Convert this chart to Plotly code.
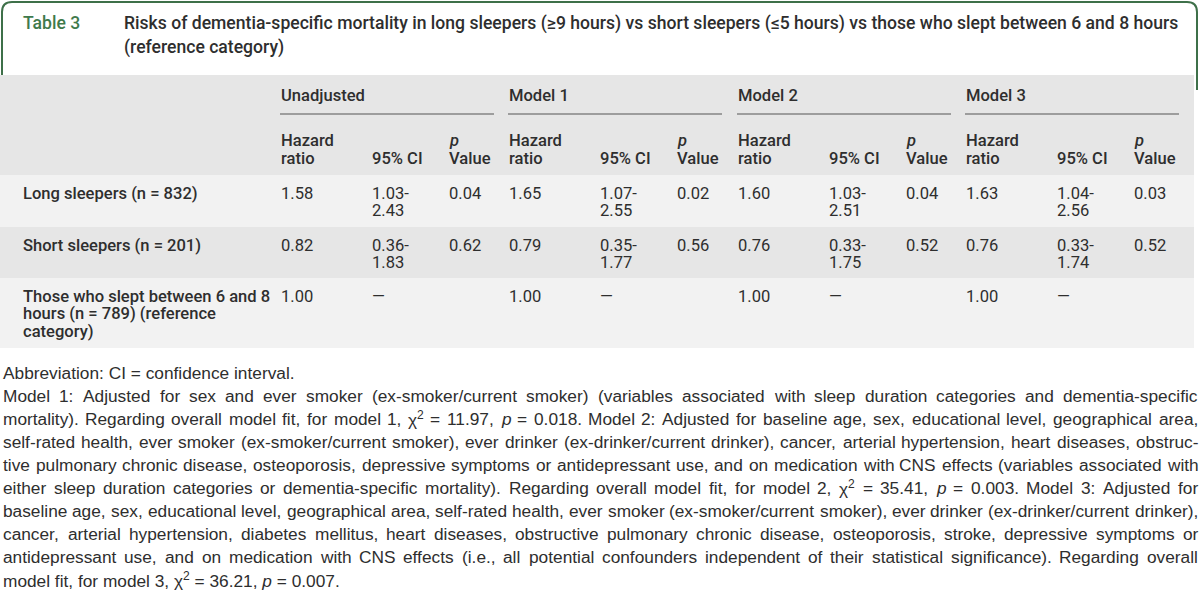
import re
import glob
import struct
import plotly.graph_objects as go

# ---------------------------------------------------------------- data
table_number = "Table 3"
title_lines = [
    "Risks of dementia-specific mortality in long sleepers (≥9 hours) vs short sleepers (≤5 hours) vs those who slept between 6 and 8 hours",
    "(reference category)",
]
model_names = ["Unadjusted", "Model 1", "Model 2", "Model 3"]
sub_headers = ["Hazard<br>ratio", "95% CI", "<i>p</i><br>Value"]
row_labels = [
    "Long sleepers (n = 832)",
    "Short sleepers (n = 201)",
    "Those who slept between 6 and 8<br>hours (n = 789) (reference<br>category)",
]

hr_unadjusted = [1.58, 0.82, 1.00]
ci_low_unadjusted = [1.03, 0.36, None]
ci_high_unadjusted = [2.43, 1.83, None]
p_unadjusted = [0.04, 0.62, None]

hr_model1 = [1.65, 0.79, 1.00]
ci_low_model1 = [1.07, 0.35, None]
ci_high_model1 = [2.55, 1.77, None]
p_model1 = [0.02, 0.56, None]

hr_model2 = [1.60, 0.76, 1.00]
ci_low_model2 = [1.03, 0.33, None]
ci_high_model2 = [2.51, 1.75, None]
p_model2 = [0.04, 0.52, None]

hr_model3 = [1.63, 0.76, 1.00]
ci_low_model3 = [1.04, 0.33, None]
ci_high_model3 = [2.56, 1.74, None]
p_model3 = [0.03, 0.52, None]

CHI = "χ<sup>2</sup>"
footnote_paragraphs = [
    ["Abbreviation: CI = confidence interval."],
    [
        "Model 1: Adjusted for sex and ever smoker (ex-smoker/current smoker) (variables associated with sleep duration categories and dementia-specific",
        "mortality). Regarding overall model fit, for model 1, " + CHI + " = 11.97, <i>p</i> = 0.018. Model 2: Adjusted for baseline age, sex, educational level, geographical area,",
        "self-rated health, ever smoker (ex-smoker/current smoker), ever drinker (ex-drinker/current drinker), cancer, arterial hypertension, heart diseases, obstruc-",
        "tive pulmonary chronic disease, osteoporosis, depressive symptoms or antidepressant use, and on medication with CNS effects (variables associated with",
        "either sleep duration categories or dementia-specific mortality). Regarding overall model fit, for model 2, " + CHI + " = 35.41, <i>p</i> = 0.003. Model 3: Adjusted for",
        "baseline age, sex, educational level, geographical area, self-rated health, ever smoker (ex-smoker/current smoker), ever drinker (ex-drinker/current drinker),",
        "cancer, arterial hypertension, diabetes mellitus, heart diseases, obstructive pulmonary chronic disease, osteoporosis, stroke, depressive symptoms or",
        "antidepressant use, and on medication with CNS effects (i.e., all potential confounders independent of their statistical significance). Regarding overall",
        "model fit, for model 3, " + CHI + " = 36.21, <i>p</i> = 0.007.",
    ],
]

hr_cols = [hr_unadjusted, hr_model1, hr_model2, hr_model3]
ci_low_cols = [ci_low_unadjusted, ci_low_model1, ci_low_model2, ci_low_model3]
ci_high_cols = [ci_high_unadjusted, ci_high_model1, ci_high_model2, ci_high_model3]
p_cols = [p_unadjusted, p_model1, p_model2, p_model3]

# ---------------------------------------------------------------- styles / layout
W, H = 1200, 592
GREEN = "#3e7049"
GREEN_TXT = "#3f7a4c"
TXT = "#2e2e2e"
HEAD_BG = "#e6e6e6"
LIGHT_BG = "#f2f2f2"
RULE = "#555555"
TABLE_FONT = "Roboto"
NOTE_FONT = "Liberation Sans"

label_x = 22
group_x = [280, 508, 737, 965]
sub_dx = [0, 91, 168]
group_rule_w = 214
table_left, table_right = 0, 1194
header_top, header_bottom = 75, 175
row_bounds = [175, 227, 278, 348]
row_fills = [LIGHT_BG, HEAD_BG, LIGHT_BG]
group_y, group_rule_y = 95, 114
sub_last_line_y = 158
cell_line_h = 17.5
first_line_off = 18
note_left, note_right = 2, 1197
note_first_y, note_line_h = 373, 23


# ---------------------------------------------------------------- font metrics (for sizing / justification)
def find_font(names):
    for n in names:
        for base in ["/usr/share/fonts", "/usr/local/share/fonts", "/root/.fonts", "/usr/share"]:
            hits = glob.glob(base + "/**/" + n, recursive=True)
            if hits:
                return hits[0]
    return None


def load_metrics(path):
    if not path:
        return None
    try:
        data = open(path, "rb").read()
        num = struct.unpack(">H", data[4:6])[0]
        tables = {}
        for i in range(num):
            tag, _, off, ln = struct.unpack(">4sIII", data[12 + 16 * i: 28 + 16 * i])
            tables[tag.decode("latin1")] = off
        head = tables["head"]
        upem = struct.unpack(">H", data[head + 18: head + 20])[0]
        hhea = tables["hhea"]
        nhm = struct.unpack(">H", data[hhea + 34: hhea + 36])[0]
        hm = tables["hmtx"]
        adv = [struct.unpack(">H", data[hm + 4 * i: hm + 4 * i + 2])[0] for i in range(nhm)]
        cm = tables["cmap"]
        nsub = struct.unpack(">H", data[cm + 2: cm + 4])[0]
        sub = None
        for i in range(nsub):
            pid, eid, off = struct.unpack(">HHI", data[cm + 4 + 8 * i: cm + 12 + 8 * i])
            s = cm + off
            fmt = struct.unpack(">H", data[s: s + 2])[0]
            if fmt == 4 and pid in (0, 3):
                sub = s
                break
        if sub is None:
            return None
        segx2 = struct.unpack(">H", data[sub + 6: sub + 8])[0]
        seg = segx2 // 2
        ends = struct.unpack(">%dH" % seg, data[sub + 14: sub + 14 + segx2])
        starts = struct.unpack(">%dH" % seg, data[sub + 16 + segx2: sub + 16 + 2 * segx2])
        deltas = struct.unpack(">%dh" % seg, data[sub + 16 + 2 * segx2: sub + 16 + 3 * segx2])
        rpos = sub + 16 + 3 * segx2
        roffs = struct.unpack(">%dH" % seg, data[rpos: rpos + segx2])
        cache = {}

        def gid(c):
            if c in cache:
                return cache[c]
            g = 0
            for k in range(seg):
                if starts[k] <= c <= ends[k]:
                    if roffs[k] == 0:
                        g = (c + deltas[k]) & 0xFFFF
                    else:
                        a = rpos + 2 * k + roffs[k] + 2 * (c - starts[k])
                        g0 = struct.unpack(">H", data[a: a + 2])[0]
                        g = (g0 + deltas[k]) & 0xFFFF if g0 else 0
                    break
            cache[c] = g
            return g

        def width(s, size):
            return sum(adv[min(gid(ord(ch)), nhm - 1)] for ch in s) * size / upem

        return width
    except Exception:
        return None


def plain_width(metric, text, size):
    total = 0.0
    for part in re.split(r"(<sup>.*?</sup>)", text):
        if not part:
            continue
        sz = size * 0.7 if part.startswith("<sup>") else size
        clean = re.sub(r"<[^>]+>", "", part)
        total += metric(clean, sz) if metric else 0.5 * sz * len(clean)
    return total


def fit_size(metric, text, target, default, lo, hi):
    if not metric:
        return default
    w1 = plain_width(metric, text, 1.0)
    if w1 <= 0:
        return default
    return max(lo, min(hi, target / w1))


medium_metric = load_metrics(find_font(["Roboto-Medium.ttf"]))
if medium_metric:
    HEAVY = 500
    heavy_metric = medium_metric
else:
    HEAVY = 700
    heavy_metric = load_metrics(find_font(["Roboto-Bold.ttf"]))
note_metric = load_metrics(find_font(["LiberationSans-Regular.ttf"]))

title_size = fit_size(heavy_metric, title_lines[0], 1056, 16.5, 14.5, 18.5)
table_size = fit_size(heavy_metric, row_labels[0], 175, 15.5, 14, 17)

# footnote size: the densest justified line of the source is set at its natural width
justified_lines = [ln for para in footnote_paragraphs for ln in para[:-1]]
if note_metric:
    widest = max(plain_width(note_metric, ln, 1.0) for ln in justified_lines)
    note_size = max(14.5, min(17.5, (note_right - note_left - 3) / widest))
else:
    note_size = 16.0

# ---------------------------------------------------------------- build
annotations, shapes = [], []


def add_text(x, y, text, size, family, color=TXT, weight=400):
    annotations.append(dict(
        x=x, y=y, xref="x", yref="y", text=text, showarrow=False,
        xanchor="left", yanchor="middle", align="left", borderpad=0,
        font=dict(family=family, size=size, color=color, weight=weight),
    ))


# title frame (rounded top corners, open bottom hidden below the table)
r = 10
shapes.append(dict(
    type="path", xref="x", yref="y", layer="below",
    path=f"M 2,90 L 2,{2 + r} Q 2,2 {2 + r},2 L {1197 - r},2 Q 1197,2 1197,{2 + r} L 1197,90",
    line=dict(color=GREEN, width=2),
))
# header background and row bands
shapes.append(dict(type="rect", xref="x", yref="y", layer="below", x0=table_left, x1=table_right,
                   y0=header_top, y1=header_bottom, fillcolor=HEAD_BG, line=dict(width=0)))
for i, fill in enumerate(row_fills):
    shapes.append(dict(type="rect", xref="x", yref="y", layer="below", x0=table_left, x1=table_right,
                       y0=row_bounds[i], y1=row_bounds[i + 1], fillcolor=fill, line=dict(width=0)))

# title
add_text(22, 23, table_number, title_size, TABLE_FONT, GREEN_TXT, HEAVY)
for j, line in enumerate(title_lines):
    add_text(123, 23 + 24 * j, line, title_size, TABLE_FONT, TXT, HEAVY)

# column headers
for g, name in enumerate(model_names):
    gx = group_x[g]
    add_text(gx, group_y, name, table_size, TABLE_FONT, TXT, HEAVY)
    shapes.append(dict(type="line", xref="x", yref="y", x0=gx, x1=gx + group_rule_w,
                       y0=group_rule_y, y1=group_rule_y, line=dict(color=RULE, width=1)))
    for k, sh in enumerate(sub_headers):
        parts = sh.split("<br>")
        for j, part in enumerate(parts):
            y = sub_last_line_y - cell_line_h * (len(parts) - 1 - j)
            add_text(gx + sub_dx[k], y, part, table_size, TABLE_FONT, TXT, HEAVY)

# body
for i, label in enumerate(row_labels):
    y0 = row_bounds[i] + first_line_off
    for j, part in enumerate(label.split("<br>")):
        add_text(label_x, y0 + cell_line_h * j, part, table_size, TABLE_FONT, TXT, HEAVY)
    for g in range(len(model_names)):
        gx = group_x[g]
        add_text(gx + sub_dx[0], y0, f"{hr_cols[g][i]:.2f}", table_size, TABLE_FONT, TXT)
        lo, hi = ci_low_cols[g][i], ci_high_cols[g][i]
        if lo is None:
            add_text(gx + sub_dx[1], y0, "—", table_size, TABLE_FONT, TXT)
        else:
            add_text(gx + sub_dx[1], y0, f"{lo:.2f}-", table_size, TABLE_FONT, TXT)
            add_text(gx + sub_dx[1], y0 + cell_line_h, f"{hi:.2f}", table_size, TABLE_FONT, TXT)
        if p_cols[g][i] is not None:
            add_text(gx + sub_dx[2], y0, f"{p_cols[g][i]:.2f}", table_size, TABLE_FONT, TXT)

# footnotes (justified like the source)
line_no = 0
for para in footnote_paragraphs:
    for li, line in enumerate(para):
        y = note_first_y + note_line_h * line_no
        justify = li < len(para) - 1
        if not justify:
            add_text(note_left, y, line, note_size, NOTE_FONT, TXT)
        else:
            words = line.split(" ")
            widths = [plain_width(note_metric, w, note_size) for w in words]
            gap = (note_right - note_left - sum(widths)) / (len(words) - 1)
            gap = max(gap, 1.5)
            x = note_left
            for w, wd in zip(words, widths):
                add_text(x, y, w, note_size, NOTE_FONT, TXT)
                x += wd + gap
        line_no += 1

fig = go.Figure()
fig.add_trace(go.Scatter(x=[0, W], y=[0, H], mode="markers", marker=dict(opacity=0),
                         hoverinfo="skip", showlegend=False))
fig.update_layout(
    width=W, height=H, margin=dict(l=0, r=0, t=0, b=0),
    paper_bgcolor="white", plot_bgcolor="white",
    xaxis=dict(range=[0, W], visible=False, fixedrange=True),
    yaxis=dict(range=[H, 0], visible=False, fixedrange=True),
    shapes=shapes, annotations=annotations, showlegend=False,
)
fig.write_html(
    "out.html",
    config={"displayModeBar": False},
    post_script="document.body.style.margin='0px';document.body.style.overflow='hidden';",
)
